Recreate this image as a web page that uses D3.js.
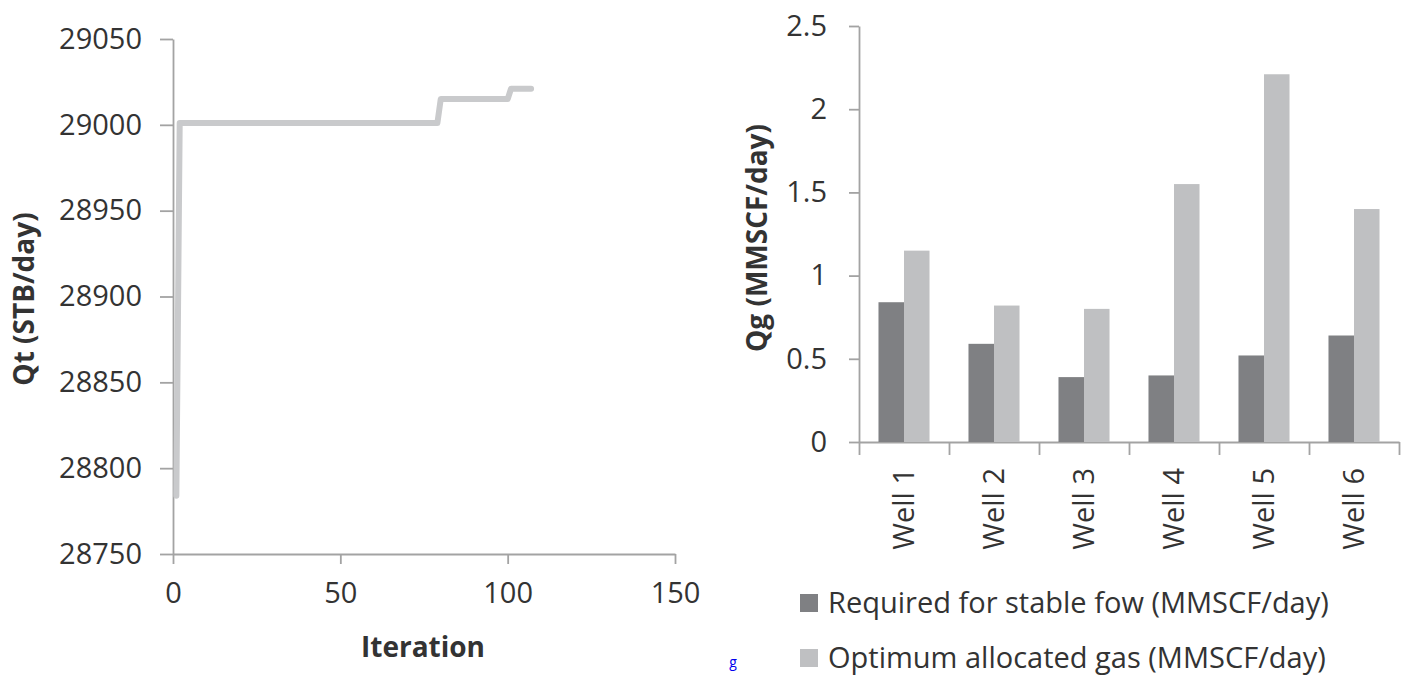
<!DOCTYPE html>
<html>
<head>
<meta charset="utf-8">
<script src="https://cdn.jsdelivr.net/npm/d3@7/dist/d3.min.js"></script>
<style>
body { margin: 0; background: #fff; }
text { font-family: "Open Sans", sans-serif; }
</style>
</head>
<body>
<div class="canvas"></div>
<script>
// left chart: Qt vs iteration
const iterations = [1, 2, 79, 80, 100, 101, 107]
const qt = [28784, 29001, 29001, 29015, 29015, 29021, 29021]
const qtTicks = [28750, 28800, 28850, 28900, 28950, 29000, 29050]
const iterTicks = [0, 50, 100, 150]

// right chart: gas per well
const wells = ["Well 1", "Well 2", "Well 3", "Well 4", "Well 5", "Well 6"]
const required = [0.84, 0.59, 0.39, 0.40, 0.52, 0.64]
const optimum = [1.15, 0.82, 0.80, 1.55, 2.21, 1.40]
const qgTicks = [0, 0.5, 1, 1.5, 2, 2.5]
const seriesNames = ["Required for stable fow (MMSCF/day)", "Optimum allocated gas (MMSCF/day)"]
const seriesColors = ["#7f8083", "#bfc0c2"]

const axisColor = "#a3a3a3"
const textColor = "#333"
const fontSize = 29
const titleSize = 28

const svg = d3.select(".canvas").append("svg")
    .attr("width", 1410)
    .attr("height", 677)

function styleAxis(g) {
    g.select(".domain").attr("stroke", axisColor).attr("stroke-width", 1.8)
    g.selectAll(".tick line").attr("stroke", axisColor).attr("stroke-width", 1.8)
    g.selectAll(".tick text")
        .attr("fill", textColor)
        .attr("font-size", fontSize)
}

// ---- left chart ----
const x1 = d3.scaleLinear().domain([0, 150]).range([173, 675])
const y1 = d3.scaleLinear().domain([28750, 29050]).range([554, 39])

const xAxis1 = svg.append("g")
    .attr("transform", `translate(0, ${y1(28750)})`)
    .call(d3.axisBottom(x1).tickValues(iterTicks).tickSize(10).tickSizeOuter(0).tickPadding(18).tickFormat(d => String(d)))
    .call(styleAxis)

const yAxis1 = svg.append("g")
    .attr("transform", `translate(${x1(0)}, 0)`)
    .call(d3.axisLeft(y1).tickValues(qtTicks).tickSize(13).tickSizeOuter(0).tickPadding(18).tickFormat(d => String(d)))
    .call(styleAxis)

const lineData = iterations.map((d, i) => ({ it: d, q: qt[i] }))
const line = d3.line()
    .x(d => x1(d.it))
    .y(d => y1(d.q))

svg.append("path")
    .datum(lineData)
    .attr("d", line)
    .attr("fill", "none")
    .attr("stroke", "#c9cacc")
    .attr("stroke-width", 6)
    .attr("stroke-linejoin", "round")
    .attr("stroke-linecap", "round")

svg.append("text")
    .attr("x", 423)
    .attr("y", 647)
    .attr("dy", "0.35em")
    .attr("text-anchor", "middle")
    .attr("font-size", titleSize)
    .attr("font-weight", "bold")
    .attr("fill", textColor)
    .text("Iteration")

svg.append("text")
    .attr("transform", "translate(24, 299) rotate(-90)")
    .attr("dy", "0.35em")
    .attr("text-anchor", "middle")
    .attr("font-size", titleSize)
    .attr("font-weight", "bold")
    .attr("fill", textColor)
    .text("Qt (STB/day)")

// ---- right chart ----
const x2 = d3.scaleBand()
    .domain(wells)
    .range([859, 1399])
    .paddingInner(0.433)
    .paddingOuter(0.2165)
const xSub = d3.scaleBand()
    .domain([0, 1])
    .range([0, x2.bandwidth()])
const y2 = d3.scaleLinear().domain([0, 2.5]).range([442, 26])

// category boundary ticks
const xEdge = d3.scaleLinear().domain([0, wells.length]).range(x2.range())
svg.append("g")
    .attr("transform", `translate(0, ${y2(0)})`)
    .call(d3.axisBottom(xEdge).ticks(wells.length).tickSize(13).tickSizeOuter(0).tickFormat(""))
    .call(styleAxis)

const yAxis2 = svg.append("g")
    .attr("transform", `translate(${x2.range()[0]}, 0)`)
    .call(d3.axisLeft(y2).tickValues(qgTicks).tickSize(10).tickSizeOuter(0).tickPadding(22).tickFormat(d => String(d)))
    .call(styleAxis)

const groups = wells.map((w, i) => ({ well: w, values: [required[i], optimum[i]] }))

svg.append("g").selectAll("g")
    .data(groups)
    .enter()
    .append("g")
    .attr("transform", d => `translate(${x2(d.well)}, 0)`)
    .selectAll("rect")
    .data(d => d.values.map((v, k) => ({ k: k, v: v })))
    .enter()
    .append("rect")
    .attr("x", d => xSub(d.k))
    .attr("y", d => y2(d.v))
    .attr("width", xSub.bandwidth())
    .attr("height", d => y2(0) - y2(d.v))
    .attr("fill", d => seriesColors[d.k])

// rotated well labels
svg.append("g").selectAll("text")
    .data(wells)
    .enter()
    .append("text")
    .attr("transform", d => `translate(${x2(d) + x2.bandwidth() / 2}, 468) rotate(-90)`)
    .attr("dy", "0.35em")
    .attr("text-anchor", "end")
    .attr("font-size", fontSize)
    .attr("fill", textColor)
    .text(d => d)

svg.append("text")
    .attr("transform", "translate(757, 238) rotate(-90)")
    .attr("dy", "0.35em")
    .attr("text-anchor", "middle")
    .attr("font-size", titleSize)
    .attr("font-weight", "bold")
    .attr("fill", textColor)
    .text("Qg (MMSCF/day)")

// legend
const legend = svg.append("g").selectAll("g")
    .data(seriesNames)
    .enter()
    .append("g")
    .attr("transform", (d, i) => `translate(800, ${603 + i * 55})`)
legend.append("rect")
    .attr("x", 0)
    .attr("y", -9)
    .attr("width", 18)
    .attr("height", 18)
    .attr("fill", (d, i) => seriesColors[i])
legend.append("text")
    .attr("x", 28)
    .attr("dy", "0.35em")
    .attr("font-size", fontSize)
    .attr("fill", textColor)
    .text(d => d)

// stray link mark
svg.append("text")
    .attr("x", 733)
    .attr("y", 667)
    .attr("text-anchor", "middle")
    .attr("font-size", 14)
    .attr("fill", "#0000ee")
    .attr("text-decoration", "underline")
    .text("g")
</script>
</body>
</html>
